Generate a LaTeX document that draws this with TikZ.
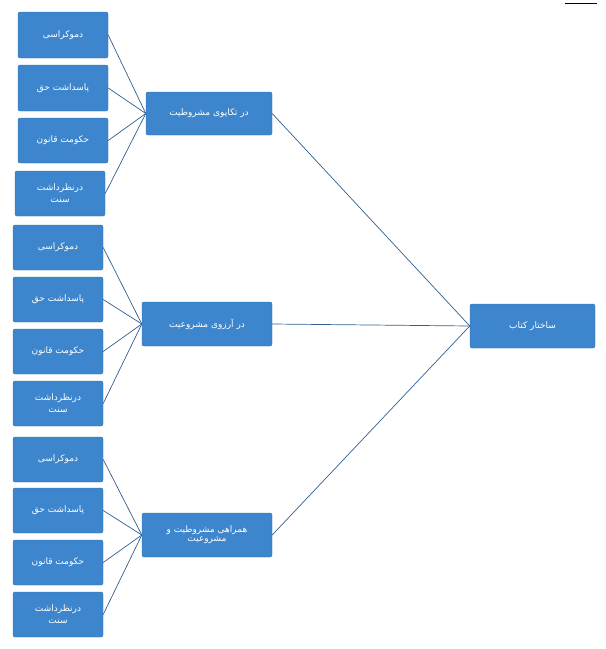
\documentclass[tikz,border=0pt]{standalone}
\usepackage{fontspec}
\newfontfamily\farsi[Script=Arabic]{DejaVu Sans}
\TeXXeTstate=1
\newcommand{\fa}[1]{{\farsi\beginR #1\endR}}
\begin{document}
\begin{tikzpicture}[x=1pt,y=-1pt,
  box/.style={draw=boxedge,fill=boxfill,text=white,rounded corners=2pt,font=\fontsize{9}{10}\selectfont,align=center,inner sep=0pt},
  link/.style={draw=linkcol,line width=0.7pt}]
\definecolor{boxfill}{HTML}{3D85CC}
\definecolor{boxedge}{HTML}{3170AE}
\definecolor{linkcol}{HTML}{2F5F92}
\useasboundingbox (0,0) rectangle (606,649);
\draw[black,line width=0.6pt] (565,3) -- (597,3);
% right
\node[box,minimum width=125,minimum height=44] (root) at (532.5,326) {\fa{ساختار کتاب}};
% middle
\node[box,minimum width=126,minimum height=43] (m1) at (209,113.5) {\fa{در تکاپوی مشروطیت}};
\node[box,minimum width=130,minimum height=44] (m2) at (207,324) {\fa{در آرزوی مشروعیت}};
\node[box,minimum width=130,minimum height=44] (m3) at (207,535) {\fa{همراهی مشروطیت و}\\[-1pt]\fa{مشروعیت}};
\foreach \m in {m1,m2,m3} \draw[link] (\m.east) -- (root.west);
% group 1
\node[box,minimum width=90,minimum height=46] (a1) at (63,35) {\fa{دموکراسی}};
\node[box,minimum width=90,minimum height=46] (a2) at (63,88) {\fa{پاسداشت حق}};
\node[box,minimum width=90,minimum height=45] (a3) at (63,140.5) {\fa{حکومت قانون}};
\node[box,minimum width=90,minimum height=45] (a4) at (60,193.5) {\fa{درنظرداشت}\\[2pt]\fa{سنت}};
% group 2
\node[box,minimum width=90,minimum height=45] (b1) at (58,247.5) {\fa{دموکراسی}};
\node[box,minimum width=90,minimum height=45] (b2) at (58,299.5) {\fa{پاسداشت حق}};
\node[box,minimum width=90,minimum height=45] (b3) at (58,351.5) {\fa{حکومت قانون}};
\node[box,minimum width=90,minimum height=45] (b4) at (58,403.5) {\fa{درنظرداشت}\\[2pt]\fa{سنت}};
% group 3
\node[box,minimum width=90,minimum height=45] (c1) at (58,459.5) {\fa{دموکراسی}};
\node[box,minimum width=90,minimum height=45] (c2) at (58,510.5) {\fa{پاسداشت حق}};
\node[box,minimum width=90,minimum height=45] (c3) at (58,562.5) {\fa{حکومت قانون}};
\node[box,minimum width=90,minimum height=45] (c4) at (58,614.5) {\fa{درنظرداشت}\\[2pt]\fa{سنت}};
\foreach \i in {1,2,3,4}{
  \draw[link] (a\i.east) -- (m1.west);
  \draw[link] (b\i.east) -- (m2.west);
  \draw[link] (c\i.east) -- (m3.west);
}
\end{tikzpicture}
\end{document}
